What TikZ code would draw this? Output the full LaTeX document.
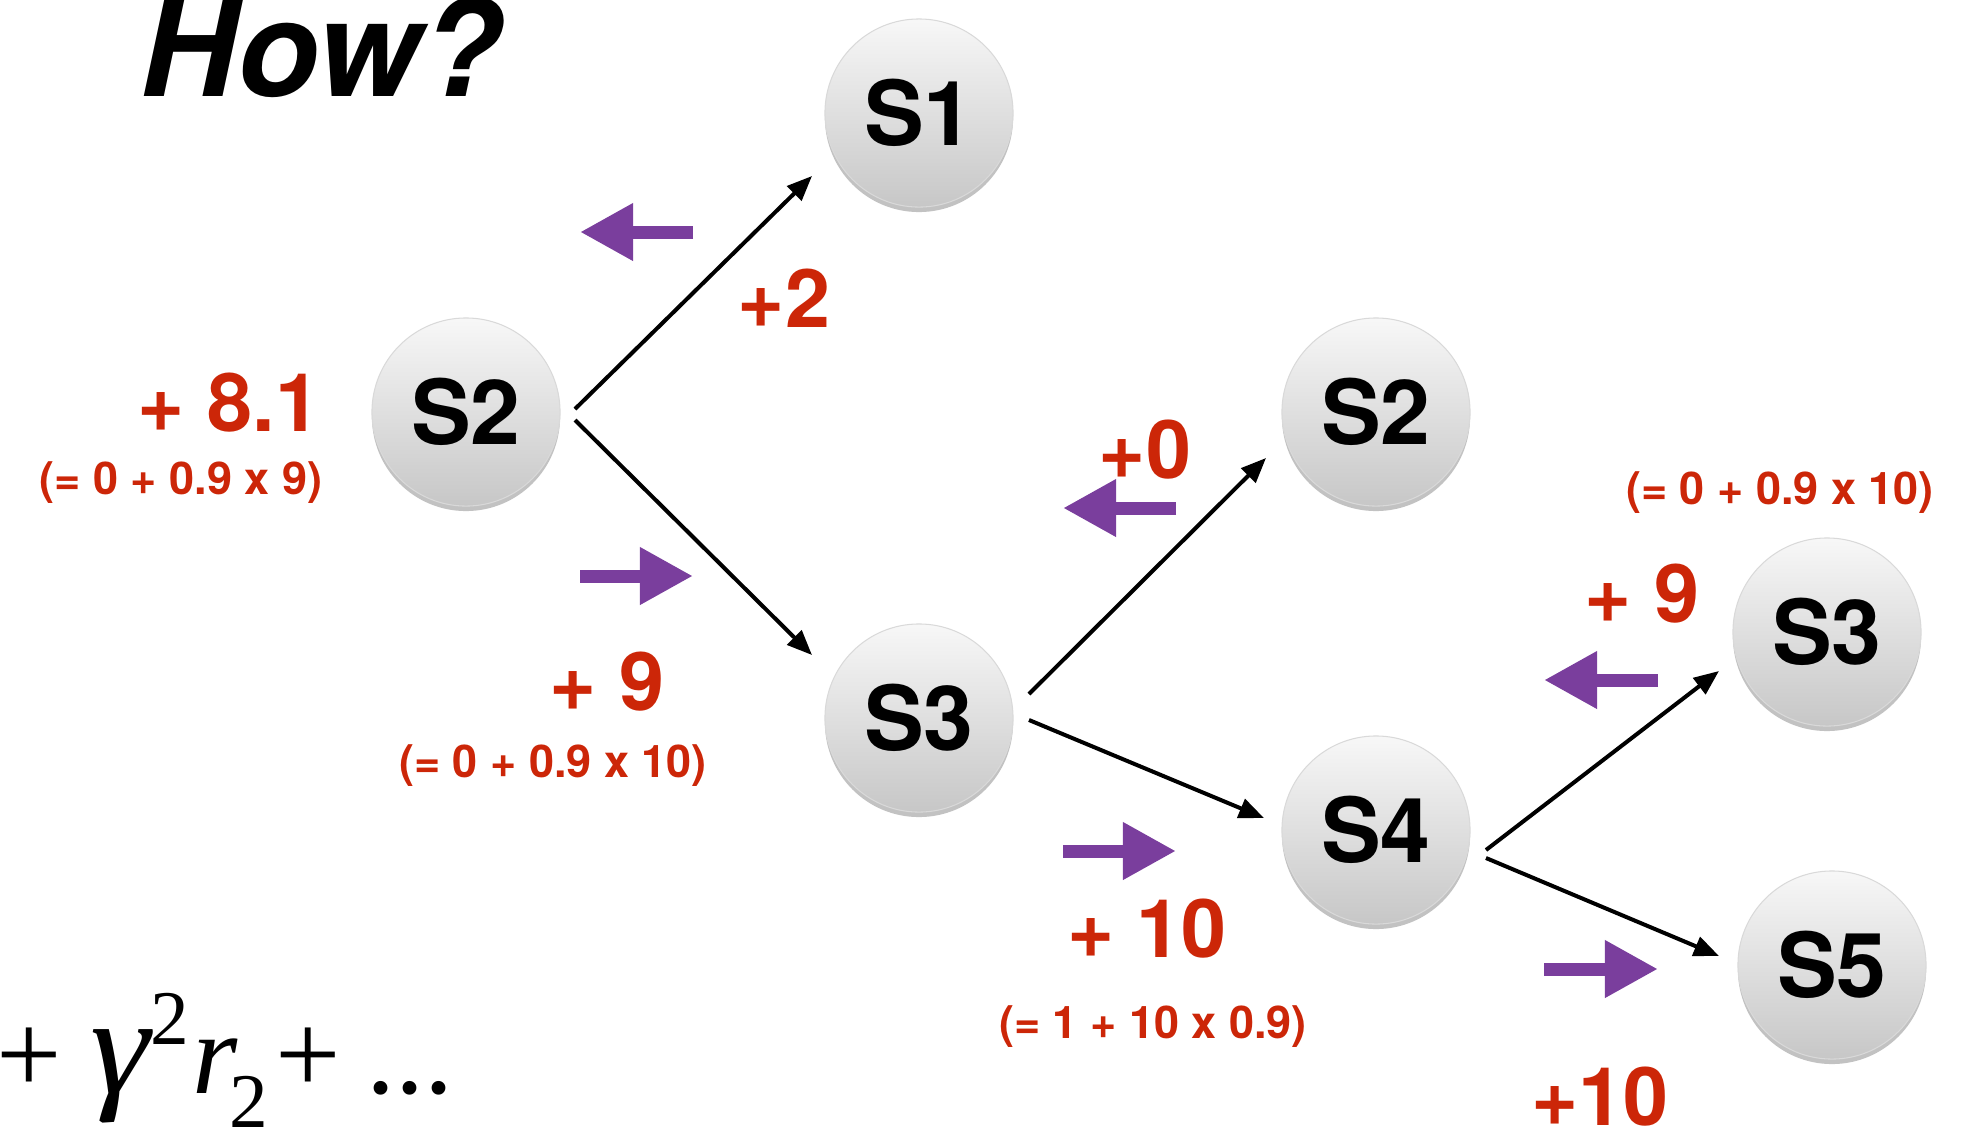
\documentclass[tikz,border=0pt]{standalone}
\usepackage{fontspec}
\setmainfont{TeX Gyre Heros}
\newfontfamily\formulafont{Liberation Serif}
\usetikzlibrary{arrows.meta,calc,shadows}

\definecolor{rewardred}{RGB}{204,38,8}
\definecolor{flowpurple}{RGB}{122,62,157}

\begin{document}
\begin{tikzpicture}[x=0.01cm,y=-0.01cm,
  state/.style={circle, minimum size=1.88cm, inner sep=0pt,
    top color=black!3, bottom color=black!22, draw=black!15, line width=0.3pt,
    font=\fontsize{25.5}{30}\selectfont\bfseries,
    drop shadow={shadow xshift=0cm, shadow yshift=-0.05cm, opacity=0.24, fill=black}},
  edge/.style={line width=0.04cm, -{Triangle[length=0.25cm,width=0.2cm]}},
  flow/.style={draw=flowpurple, line width=0.13cm, -{Triangle[length=0.53cm,width=0.54cm]}},
  big/.style={text=rewardred, font=\fontsize{23}{27}\selectfont\bfseries, inner sep=0pt},
  small/.style={text=rewardred, font=\fontsize{12.8}{15}\selectfont\bfseries, inner sep=0pt}]

\useasboundingbox (0,0) rectangle (1968,1129);

% title and the tail of the return formula
\node[anchor=base west, inner sep=0pt, font=\fontsize{38}{44}\selectfont\bfseries\itshape] (title) at (140,96) {How?};
\node[anchor=base west, inner sep=0pt, font=\formulafont\fontsize{33}{38}\selectfont] (formula) at (-4,1093)
  {+\hspace{0.24em}\scalebox{1.3}[1.2]{\textit{γ}}\kern-0.02em\raisebox{0.42em}{\fontsize{22}{22}\selectfont 2}\kern0.03em\textit{r}\kern-0.07em\raisebox{-0.3em}{\fontsize{22}{22}\selectfont 2}\hspace{0.06em}+\hspace{0.22em}...};

% states
\node[state] (s2a) at (466,412) {S2};
\node[state] (s1)  at (919,113) {S1};
\node[state] (s3a) at (919,718) {S3};
\node[state] (s2b) at (1376,412) {S2};
\node[state] (s4)  at (1376,830) {S4};
\node[state] (s3b) at (1827,632) {S3};
\node[state] (s5)  at (1832,965) {S5};

% transitions
\draw[edge] ($(s2a)+(109,-3)$) -- ($(s1)+(-107,63)$);
\draw[edge] ($(s2a)+(109,8)$)  -- ($(s3a)+(-107,-63)$);
\draw[edge] ($(s3a)+(110,-24)$) -- ($(s2b)+(-110,46)$);
\draw[edge] ($(s3a)+(110,2)$)  -- ($(s4)+(-112,-12)$);
\draw[edge] ($(s4)+(110,20)$)  -- ($(s3b)+(-108,39)$);
\draw[edge] ($(s4)+(110,28)$)  -- ($(s5)+(-113,-9)$);

% value flow arrows
\draw[flow] (693,232) -- (580,232);
\draw[flow] (580,576) -- (693,576);
\draw[flow] (1176,508) -- (1063,508);
\draw[flow] (1063,851) -- (1176,851);
\draw[flow] (1658,680) -- (1544,680);
\draw[flow] (1544,969) -- (1658,969);

% rewards and values
\node[big] (r1) at (784,298) {+2};
\node[big] (v2a) at (229,403) {+ 8.1};
\node[small] (c2a) at (181,483) {(= 0 + 0.9 x 9)};
\node[big] (v3a) at (607,682) {+ 9};
\node[small] (c3a) at (553,766) {(= 0 + 0.9 x 10)};
\node[big] (r2b) at (1145,450) {+0};
\node[big] (v4) at (1147,929) {+ 10};
\node[small] (c4) at (1153,1027) {(= 1 + 10 x 0.9)};
\node[small] (c3b) at (1780,493) {(= 0 + 0.9 x 10)};
\node[big] (v3b) at (1642,594) {+ 9};
\node[big] (r5) at (1600,1097) {+10};
\end{tikzpicture}
\end{document}
